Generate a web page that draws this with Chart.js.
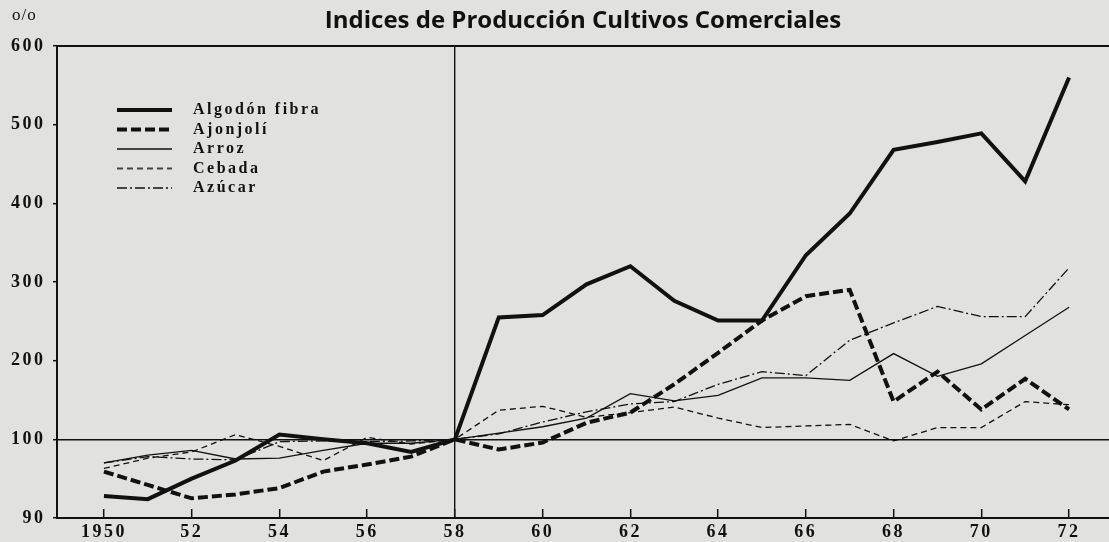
<!DOCTYPE html>
<html>
<head>
<meta charset="utf-8">
<script src="https://cdn.jsdelivr.net/npm/chart.js@4.4.1/dist/chart.umd.min.js"></script>
<style>
  html, body { margin: 0; padding: 0; background: #e1e1df; }
  #wrap { width: 1109px; height: 542px; }
</style>
</head>
<body>
<div id="wrap"><canvas id="chart" width="1109" height="542"></canvas></div>
<script>
// valores (índice, 1958 = 100)
const years = [1950, 1951, 1952, 1953, 1954, 1955, 1956, 1957, 1958, 1959, 1960, 1961,
               1962, 1963, 1964, 1965, 1966, 1967, 1968, 1969, 1970, 1971, 1972];
const algodon = [92.8, 92.4, 95.0, 97.3, 106, 100.2, 99.5, 98.4, 100, 255, 258, 297,
                 320, 276, 251, 251, 334, 387, 468, 478, 489, 428, 560];
const ajonjoli = [95.9, 94.2, 92.5, 93.0, 93.8, 95.9, 96.8, 97.8, 100, 98.7, 99.6, 121,
                  134, 170, 210, 251, 282, 290, 148, 186, 138, 177, 138];
const arroz = [97.0, 98.0, 98.6, 97.5, 97.6, 98.6, 99.5, 99.5, 100, 108, 116, 127,
               158, 149, 156, 178, 178, 175, 209, 180, 196, 232, 268];
const cebada = [96.3, 97.6, 98.4, 106, 99.1, 97.3, 102.5, 99.4, 100, 137, 142, 128,
                134, 141, 127, 115, 117, 119, 99.8, 115, 115, 148, 144];
const azucar = [97.0, 97.8, 97.5, 97.4, 99.7, 99.8, 99.7, 99.8, 100, 107, 122, 135,
                145, 148, 170, 186, 181, 226, 248, 269, 256, 256, 318];

const xTicks = [1950, 1952, 1954, 1956, 1958, 1960, 1962, 1964, 1966, 1968, 1970, 1972];
const yTicks = [90, 100, 200, 300, 400, 500, 600];

const ink = '#111';

// el eje es cortado: de 90 a 100 ocupa lo mismo que de 100 a 200
function toAxis(v) {
    return v >= 100 ? v : (v - 90) * 10;
}
function fromAxis(t) {
    return t >= 100 ? t : 90 + t / 10;
}

// muestra de línea para la leyenda (deja hueco antes del texto)
function legendKey(width, dash) {
    const c = document.createElement('canvas');
    c.width = 68;
    c.height = 8;
    const g = c.getContext('2d');
    g.strokeStyle = ink;
    g.lineWidth = width;
    g.setLineDash(dash);
    g.beginPath();
    g.moveTo(0, 4);
    g.lineTo(55, 4);
    g.stroke();
    return c;
}

const series = [
    { label: 'Algodón fibra', values: algodon, width: 4, dash: [] },
    { label: 'Ajonjolí', values: ajonjoli, width: 4, dash: [10, 4] },
    { label: 'Arroz', values: arroz, width: 1.3, dash: [] },
    { label: 'Cebada', values: cebada, width: 1.3, dash: [6, 4] },
    { label: 'Azúcar', values: azucar, width: 1.3, dash: [10, 3, 2, 3] }
];

const datasets = series.map(s => ({
    label: s.label,
    data: years.map((yr, i) => ({ x: yr, y: toAxis(s.values[i]) })),
    borderColor: ink,
    backgroundColor: ink,
    borderWidth: s.width,
    borderDash: s.dash,
    pointRadius: 0,
    pointHoverRadius: 0,
    pointStyle: legendKey(s.width, s.dash),
    tension: 0,
    fill: false
}));

const tickFont = { family: '"Liberation Serif", "DejaVu Serif", serif', size: 18, weight: 'bold' };

const paperPlugin = {
    id: 'paper',
    beforeDraw(chart) {
        const ctx = chart.ctx;
        ctx.letterSpacing = '2.5px';
        // el título va sin espaciado
        const tb = chart.titleBlock;
        if (tb && !tb._noSpacing) {
            const draw = tb.draw;
            tb.draw = function (...args) {
                const prev = this.ctx.letterSpacing;
                this.ctx.letterSpacing = '0px';
                draw.apply(this, args);
                this.ctx.letterSpacing = prev;
            };
            tb._noSpacing = true;
        }
    },
    afterLayout(chart) {
        // leyenda dentro del área, arriba a la izquierda
        const lg = chart.legend;
        if (!lg) return;
        lg.left = 113.5;
        lg.top = 98.5;
        lg.right = lg.left + 260;
        lg.bottom = chart.chartArea.bottom;
    },
    afterDraw(chart) {
        const ctx = chart.ctx;
        ctx.save();
        ctx.letterSpacing = '1px';
        ctx.fillStyle = ink;
        ctx.font = '17px "Liberation Serif", serif';
        ctx.textBaseline = 'middle';
        ctx.fillText('o/o', 12, 16);
        ctx.restore();
    }
};

const ctx = document.getElementById('chart').getContext('2d');

const myChart = new Chart(ctx, {
    type: 'line',
    data: { datasets: datasets },
    plugins: [paperPlugin],
    options: {
        responsive: false,
        animation: false,
        events: [],
        layout: { padding: 0 },
        plugins: {
            title: {
                display: true,
                fullSize: false,
                text: 'Indices de Producción Cultivos Comerciales',
                color: ink,
                font: { family: '"Open Sans", sans-serif', size: 24, weight: 'bold' },
                padding: { top: 6.6, bottom: 10.6 }
            },
            legend: {
                position: 'chartArea',
                align: 'start',
                labels: {
                    usePointStyle: true,
                    pointStyleWidth: 68,
                    padding: 3.5,
                    color: ink,
                    font: { family: '"Liberation Serif", serif', size: 16, weight: 'bold' }
                }
            },
            tooltip: { enabled: false }
        },
        scales: {
            x: {
                type: 'linear',
                position: 'bottom',
                min: 1948.93,
                max: 1972.91,
                afterBuildTicks: s => { s.ticks = xTicks.map(v => ({ value: v })); },
                afterFit: s => { s.height = 24; },
                ticks: {
                    autoSkip: false,
                    maxRotation: 0,
                    padding: 13,
                    color: ink,
                    font: tickFont,
                    callback: v => (v === 1950 ? '1950' : String(v).slice(2))
                },
                grid: {
                    color: c => (c.tick && c.tick.value === 1958 ? ink : 'rgba(0,0,0,0)'),
                    lineWidth: 1.4,
                    tickColor: ink,
                    tickWidth: 1.5,
                    tickLength: -9
                },
                border: { color: ink, width: 2 }
            },
            xTop: {
                type: 'linear',
                position: 'top',
                min: 1948.93,
                max: 1972.91,
                afterFit: s => { s.height = 0; },
                ticks: { display: false },
                grid: { display: false },
                border: { color: ink, width: 2 }
            },
            y: {
                type: 'linear',
                min: 0,
                max: 600,
                afterBuildTicks: s => { s.ticks = yTicks.map(v => ({ value: toAxis(v) })); },
                afterFit: s => { s.width = 57; },
                ticks: {
                    padding: 7.5,
                    color: ink,
                    font: tickFont,
                    callback: v => String(fromAxis(v))
                },
                grid: {
                    color: c => (c.tick && c.tick.value === 100 ? ink : 'rgba(0,0,0,0)'),
                    lineWidth: 1.4,
                    tickColor: ink,
                    tickWidth: 1.5,
                    tickLength: 4
                },
                border: { color: ink, width: 2 }
            }
        }
    }
});
</script>
</body>
</html>
